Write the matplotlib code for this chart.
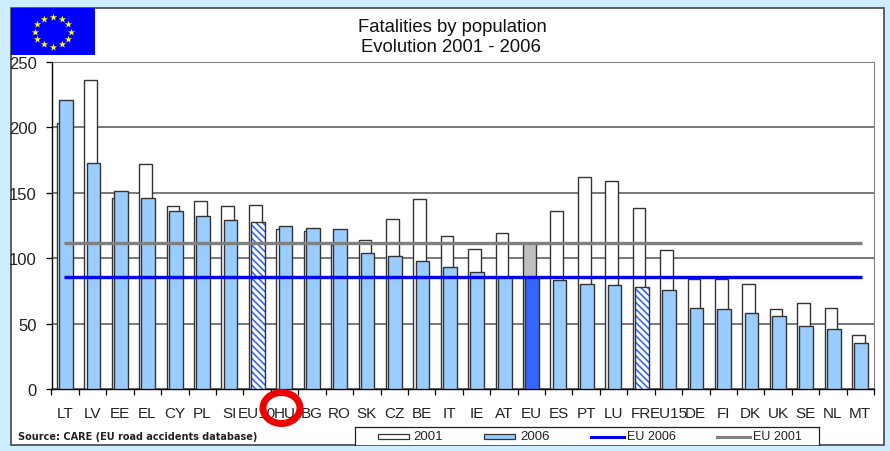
import numpy as np
import matplotlib
matplotlib.use("Agg")
import matplotlib.pyplot as plt
from matplotlib.patches import Rectangle, Ellipse

W, H = 890, 452
categories = ["LT","LV","EE","EL","CY","PL","SI","EU10","HU","BG","RO","SK","CZ","BE","IT",
              "IE","AT","EU","ES","PT","LU","FR","EU15","DE","FI","DK","UK","SE","NL","MT"]
y2001 = [203,236,146,172,140,144,140,141,122,121,110,114,130,145,117,
         107,119,112,136,162,159,138,106,84,84,80,61,66,62,41]
y2006 = [221,173,151,146,136,132,129,128,124.5,123,122,104,102,98,93,
         89.5,86,86,83,80,79.5,78,76,62,61,58,56,48,46,35]
eu2006 = 85.6
eu2001 = 112
yticks = [0,50,100,150,200,250]
hatched = ["EU10","FR"]
solid = "EU"

plt.rcParams['font.family'] = ['Liberation Sans','DejaVu Sans']
plt.rcParams['hatch.linewidth'] = 1.2
fig = plt.figure(figsize=(W/100,H/100), dpi=100, facecolor="#CCEEFF")

def fx(x): return x/W
def fy(y): return 1-y/H

fig.add_artist(Rectangle((fx(11),fy(446)),(884-11)/W,(446-9)/H,transform=fig.transFigure,
                         fc="white",ec="#444444",lw=1.2,zorder=-1))

ax = fig.add_axes([fx(51.5),fy(390),(874-51.5)/W,(390-63)/H])
x = np.arange(len(categories))
ax.set_xlim(-0.5,len(categories)-0.5)
ax.set_ylim(0,250)
ax.set_facecolor("none")
ax.spines["top"].set_visible(False)
ax.spines["right"].set_color("#808080")
ax.spines["left"].set_linewidth(1.0)
ax.spines["bottom"].set_linewidth(1.0)
ax.set_yticks(yticks)
ax.set_xticks(np.append(x-0.5,x[-1]+0.5))
ax.set_xticks(x, minor=True)
ax.set_xticklabels([])
ax.set_xticklabels(categories, minor=True, fontsize=11, color="#222222")
ax.tick_params(axis="x",which="minor",length=0,pad=12)
ax.tick_params(axis="x",which="major",length=4,width=0.9,direction="out")
ax.tick_params(axis="y",length=4,width=0.9,labelsize=12,labelcolor="#222222",pad=6.5)
ax.yaxis.grid(True,color="#555555",lw=1.1)
ax.set_axisbelow(True)

c01 = ["#BFBFBF" if c==solid else "white" for c in categories]
ax.bar(x-0.07,y2001,width=0.46,color=c01,edgecolor="#333333",lw=1.0,zorder=2)
for xi,v,c in zip(x,y2006,categories):
    if c in hatched:
        ax.bar(xi+0.03,v,width=0.5,facecolor="white",edgecolor="#3366FF",hatch="\\\\\\\\\\",lw=0,zorder=3)
        ax.bar(xi+0.03,v,width=0.5,facecolor="none",edgecolor="#333333",lw=1.0,zorder=3)
    else:
        ax.bar(xi+0.03,v,width=0.5,color="#3366FF" if c==solid else "#99CCFF",edgecolor="#333333",lw=1.0,zorder=3)
ax.plot([x[0]-0.05,x[-1]+0.05],[eu2001,eu2001],color="#808080",lw=2.4,zorder=4,solid_capstyle="butt")
ax.plot([x[0]-0.05,x[-1]+0.05],[eu2006,eu2006],color="#0000EE",lw=2.4,zorder=5,solid_capstyle="butt")

fig.text(fx(452),fy(27),"Fatalities by population",ha="center",va="center",fontsize=13.3,color="#111111")
fig.text(fx(451),fy(48),"Evolution 2001 - 2006",ha="center",va="center",fontsize=13.3,color="#111111")
fig.text(fx(18),fy(437),"Source: CARE (EU road accidents database)",ha="left",va="center",fontsize=7.05,
         fontweight="bold",color="#222222",fontfamily="DejaVu Sans")

# EU flag
fl = fig.add_axes([fx(11),fy(56),84/W,47/H])
fl.set_xlim(0,84); fl.set_ylim(0,47); fl.axis("off")
fl.add_patch(Rectangle((0,0),84,47,fc="#0000FF",ec="none"))
a = np.deg2rad(np.arange(0,360,30))
fl.scatter(41.7+18*np.cos(a),23.5+15*np.sin(a),marker="*",s=30,c="#FFFF00",lw=0)

# Legend box
lg = fig.add_axes([fx(355),fy(446),(819-355)/W,(446-428)/H],facecolor="white")
lg.set_xlim(355,819); lg.set_ylim(0,18); lg.set_xticks([]); lg.set_yticks([])
for s in lg.spines.values(): s.set_linewidth(0.9); s.set_color("#222222")
lg.spines["bottom"].set_visible(False)
lg.add_patch(Rectangle((378,6),31,5.5,fc="white",ec="#333333",lw=0.9))
lg.text(413,8.5,"2001",fontsize=9.5,va="center",color="#222222")
lg.add_patch(Rectangle((484,6),31,5.5,fc="#99CCFF",ec="#333333",lw=0.9))
lg.text(520,8.5,"2006",fontsize=9.5,va="center",color="#222222")
lg.plot([591,624],[8.5,8.5],color="#0000EE",lw=2.2)
lg.text(627,8.5,"EU 2006",fontsize=9,va="center",color="#222222")
lg.plot([717,750],[8.5,8.5],color="#808080",lw=2.2)
lg.text(753,8.5,"EU 2001",fontsize=9,va="center",color="#222222")

# Highlight ring drawn over the labels
ring = fig.add_axes([0,0,1,1],facecolor="none"); ring.axis("off")
ring.set_xlim(0,W); ring.set_ylim(H,0)
ring.add_patch(Ellipse((281.5,409),37,31,fc="none",ec="#EE0000",lw=5))

fig.savefig("out.png",dpi=100,facecolor=fig.get_facecolor())
